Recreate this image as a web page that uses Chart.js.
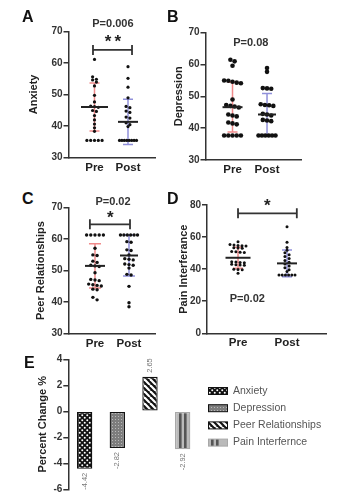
<!DOCTYPE html>
<html>
<head>
<meta charset="utf-8">
<script src="https://cdn.jsdelivr.net/npm/chart.js@4.4.1/dist/chart.umd.min.js"></script>
<style>
  html, body { margin: 0; padding: 0; background: #fff; width: 348px; height: 503px; overflow: hidden; position: relative; }
  canvas { position: absolute; }
  .panel { position: absolute; font: bold 16px "Liberation Sans", Arial, sans-serif; line-height: 16px; color: #111; }
</style>
</head>
<body>
<canvas id="chartA"></canvas>
<canvas id="chartB"></canvas>
<canvas id="chartC"></canvas>
<canvas id="chartD"></canvas>
<canvas id="chartE"></canvas>
<div class="panel" style="left:22px;top:9px">A</div>
<div class="panel" style="left:167px;top:9px">B</div>
<div class="panel" style="left:22px;top:191px">C</div>
<div class="panel" style="left:167px;top:191px">D</div>
<div class="panel" style="left:24px;top:355px">E</div>
<script>
const groups = ['Pre', 'Post'];

// A - Anxiety
const anxietyPre = [61.1, 55.6, 54.8, 54.6, 53.9, 52.7, 49.7, 47.6, 46.3, 46.1, 45.9, 44.9, 44.6, 43.3, 41.9, 40.6, 39.4, 38.3, 35.4, 35.4, 35.4, 35.4, 35.4];
const anxietyPost = [58.8, 55.1, 52.3, 48.9, 46.2, 45.8, 44.7, 44.3, 42.8, 42.5, 41.0, 40.4, 39.8, 35.4, 35.4, 35.4, 35.4, 35.4, 35.4, 35.4, 35.4];
const anxietyMean = [46.0, 41.3];
const anxietySD = [7.6, 7.2];

// B - Depression
const depressionPre = [61.5, 61.0, 59.6, 55.0, 54.9, 54.6, 54.3, 54.1, 49.0, 47.3, 47.0, 46.8, 46.5, 44.3, 44.0, 43.7, 41.8, 41.5, 41.2, 37.7, 37.7, 37.7, 37.7, 37.7];
const depressionPost = [58.9, 57.7, 52.6, 52.5, 52.4, 47.5, 47.3, 47.2, 47.0, 44.5, 44.3, 44.0, 42.6, 42.4, 42.2, 37.7, 37.7, 37.7, 37.7, 37.7, 37.7];
const depressionMean = [46.6, 44.3];
const depressionSD = [7.8, 6.6];

// C - Peer Relationships
const peerPre = [61.3, 61.3, 61.3, 61.3, 61.3, 57.1, 55.0, 54.8, 53.0, 52.6, 51.7, 51.5, 51.3, 49.3, 47.2, 47.0, 46.8, 45.7, 45.5, 45.3, 45.1, 44.1, 43.9, 41.5, 40.7];
const peerPost = [61.3, 61.3, 61.3, 61.3, 61.3, 61.3, 59.2, 59.0, 56.6, 56.4, 55.0, 53.8, 53.6, 53.4, 52.1, 51.9, 51.7, 50.8, 48.8, 48.6, 45.0, 39.8, 38.5];
const peerMean = [51.5, 54.8];
const peerSD = [7.0, 6.5];

// D - Pain Interference
const painPre = [57.1, 55.3, 55.0, 54.8, 54.6, 54.4, 53.4, 53.2, 53.0, 51.0, 50.8, 50.6, 50.4, 44.6, 44.4, 44.2, 44.0, 43.0, 42.8, 42.6, 42.4, 40.0, 39.8, 39.6, 37.4];
const painPost = [66.4, 56.7, 53.5, 51.8, 50.3, 49.0, 47.9, 46.6, 45.4, 44.3, 43.2, 42.0, 40.8, 39.6, 38.5, 36.3, 36.3, 36.3, 36.3, 36.3, 36.3];
const painMean = [47.1, 43.6];
const painSD = [6.6, 8.3];

// E - percent change
const changeLabels = ['Anxiety', 'Depression', 'Peer Relationships', 'Pain Interfernce'];
const changeValues = [-4.42, -2.82, 2.65, -2.92];

const ticks30to70 = [30, 40, 50, 60, 70];
const ticks0to80 = [0, 20, 40, 60, 80];
const ticksChange = [-6, -4, -2, 0, 2, 4];

const FONT = '"Liberation Sans", Arial, Helvetica, sans-serif';
Chart.defaults.font.family = FONT;
Chart.defaults.color = '#333';
const sdColors = ['#f08a8a', '#9090da'];
const X_AXIS_H = 18;

// GraphPad-like scatter: values that sit close together share a row
function swarm(values, center, p) {
  const pxY = (p.area.b - p.area.t) / (p.ymax - p.ymin);
  const pxX = (p.area.r - p.area.l) / (p.xmax - p.xmin);
  const rows = [];
  values.slice().sort((a, b) => b - a).forEach(v => {
    const row = rows[rows.length - 1];
    if (row && (row[0] - v) * pxY < p.rowTol) row.push(v);
    else rows.push([v]);
  });
  const pts = [];
  rows.forEach(row => {
    // wide rows get squeezed so they overlap like the original
    const step = row.length > 1 ? Math.min(p.spacing, p.maxRow / (row.length - 1)) : 0;
    row.forEach((v, i) => {
      pts.push({ x: center + (i - (row.length - 1) / 2) * step / pxX, y: v });
    });
  });
  return pts;
}

function placeCanvas(id, area, titleX, padTop, padRight, bottomExtra) {
  const c = document.getElementById(id);
  const left = Math.round(titleX - 6.6);
  const top = Math.floor(area.t - padTop);
  const w = Math.ceil(area.r + padRight - left);
  const h = Math.ceil(area.b + bottomExtra - top);
  c.width = w; c.height = h;
  c.style.left = left + 'px'; c.style.top = top + 'px';
  return {
    canvas: c,
    yWidth: area.l - left,
    pad: { left: 0, top: area.t - top, right: w - (area.r - left), bottom: h - (area.b - top) }
  };
}

function dotPanel(id, p) {
  const box = placeCanvas(id, p.area, p.titleX, 18, 4, X_AXIS_H + 4);
  box.pad.bottom -= X_AXIS_H;

  const decor = {
    id: 'decor',
    beforeDatasetsDraw(chart) {
      const { ctx, scales: { x, y } } = chart;
      ctx.save();
      ctx.lineWidth = 1.5;
      p.mean.forEach((m, i) => {
        const cx = x.getPixelForValue(i + 1);
        const hi = y.getPixelForValue(m + p.sd[i]);
        const lo = y.getPixelForValue(m - p.sd[i]);
        ctx.strokeStyle = sdColors[i];
        ctx.beginPath();
        ctx.moveTo(cx, hi); ctx.lineTo(cx, lo);
        ctx.moveTo(cx - p.cap, hi); ctx.lineTo(cx + p.cap, hi);
        ctx.moveTo(cx - p.cap, lo); ctx.lineTo(cx + p.cap, lo);
        ctx.stroke();
      });
      ctx.restore();
    },
    afterDatasetsDraw(chart) {
      const { ctx, scales: { x, y } } = chart;
      ctx.save();
      ctx.strokeStyle = '#222';
      ctx.lineWidth = 2;
      p.mean.forEach((m, i) => {
        const cx = x.getPixelForValue(i + 1);
        const my = y.getPixelForValue(m);
        ctx.beginPath();
        ctx.moveTo(cx - p.meanHalf[i], my); ctx.lineTo(cx + p.meanHalf[i], my);
        ctx.stroke();
      });
      if (p.bracket) {
        const x0 = x.getPixelForValue(p.bracket[0]);
        const x1 = x.getPixelForValue(p.bracket[1]);
        const by = y.getPixelForValue(p.bracket[2]);
        ctx.strokeStyle = '#333';
        ctx.lineWidth = 1.8;
        ctx.beginPath();
        ctx.moveTo(x0, by); ctx.lineTo(x1, by);
        ctx.moveTo(x0, by - 5); ctx.lineTo(x0, by + 5);
        ctx.moveTo(x1, by - 5); ctx.lineTo(x1, by + 5);
        ctx.stroke();
      }
      if (p.stars) {
        ctx.fillStyle = '#222';
        ctx.font = 'bold 17px ' + FONT;
        ctx.textAlign = 'center';
        ctx.textBaseline = 'alphabetic';
        ctx.letterSpacing = '3px';
        ctx.fillText(p.stars[0], x.getPixelForValue(p.stars[1]) + 1.5, y.getPixelForValue(p.stars[2]) + 9);
        ctx.letterSpacing = '0px';
      }
      ctx.fillStyle = '#333';
      ctx.font = 'bold 11px ' + FONT;
      ctx.textAlign = 'center';
      ctx.textBaseline = 'middle';
      ctx.fillText(p.pText[0], x.getPixelForValue(p.pText[1]), y.getPixelForValue(p.pText[2]));
      ctx.restore();
    }
  };

  const dotStyle = { pointRadius: p.radius, pointBackgroundColor: '#111', pointBorderWidth: 0, pointHoverRadius: p.radius };

  return new Chart(box.canvas, {
    type: 'scatter',
    data: {
      datasets: [
        Object.assign({ label: groups[0], data: swarm(p.pre, 1, p) }, dotStyle),
        Object.assign({ label: groups[1], data: swarm(p.post, 2, p) }, dotStyle)
      ]
    },
    options: {
      responsive: false,
      animation: false,
      events: [],
      layout: { padding: box.pad },
      plugins: { legend: { display: false }, tooltip: { enabled: false } },
      scales: {
        x: {
          type: 'linear',
          min: p.xmin,
          max: p.xmax,
          afterBuildTicks: s => { s.ticks = groups.map((g, i) => ({ value: i + 1 })); },
          afterFit: s => { s.height = X_AXIS_H; },
          ticks: {
            callback: v => groups[Math.round(v) - 1],
            font: { size: 11.5, weight: 'bold' },
            color: '#222',
            padding: 3,
            autoSkip: false,
            maxRotation: 0
          },
          grid: { display: false, drawTicks: false },
          border: { display: true, color: '#333', width: 1.5 }
        },
        y: {
          min: p.ymin,
          max: p.ymax,
          afterBuildTicks: s => { s.ticks = p.yTicks.map(v => ({ value: v })); },
          afterFit: s => { s.width = box.yWidth; },
          ticks: { font: { size: 10, weight: 'bold' }, color: '#333', padding: 1 },
          grid: { drawOnChartArea: false, drawTicks: true, tickLength: 5, color: '#333', lineWidth: 1.5 },
          border: { color: '#333', width: 1.5 },
          title: { display: true, text: p.title, font: { size: 11, weight: 'bold' }, color: '#222', padding: 0 }
        }
      }
    },
    plugins: [decor]
  });
}

dotPanel('chartA', {
  pre: anxietyPre, post: anxietyPost, mean: anxietyMean, sd: anxietySD,
  title: 'Anxiety', yTicks: ticks30to70, ymin: 30, ymax: 70,
  area: { l: 68.5, t: 31.3, r: 155, b: 157.5 }, titleX: 34,
  xmin: 0.224, xmax: 2.806, radius: 1.6, spacing: 3.8, maxRow: 17, rowTol: 2.6,
  meanHalf: [13.5, 10], cap: 5,
  pText: ['P=0.006', 1.55, 72.3], stars: ['**', 1.55, 67.9], bracket: [0.955, 2.12, 64.1]
});

dotPanel('chartB', {
  pre: depressionPre, post: depressionPost, mean: depressionMean, sd: depressionSD,
  title: 'Depression', yTicks: ticks30to70, ymin: 30, ymax: 70,
  area: { l: 205.5, t: 32.7, r: 301, b: 160 }, titleX: 179,
  xmin: 0.217, xmax: 2.985, radius: 2.3, spacing: 4.2, maxRow: 17, rowTol: 3.5,
  meanHalf: [10, 9], cap: 5,
  pText: ['P=0.08', 1.53, 66.7]
});

dotPanel('chartC', {
  pre: peerPre, post: peerPost, mean: peerMean, sd: peerSD,
  title: 'Peer Relationships', yTicks: ticks30to70, ymin: 30, ymax: 70,
  area: { l: 68.5, t: 207.7, r: 155, b: 333.5 }, titleX: 41,
  xmin: 0.221, xmax: 2.765, radius: 1.7, spacing: 4.2, maxRow: 17, rowTol: 2.6,
  meanHalf: [10, 9], cap: 6,
  pText: ['P=0.02', 1.53, 71.7], stars: ['*', 1.45, 67.9], bracket: [0.85, 2.03, 64.7]
});

dotPanel('chartD', {
  pre: painPre, post: painPost, mean: painMean, sd: painSD,
  title: 'Pain Interferance', yTicks: ticks0to80, ymin: 0, ymax: 80,
  area: { l: 207, t: 205, r: 326.7, b: 333.3 }, titleX: 184,
  xmin: 0.367, xmax: 2.81, radius: 1.5, spacing: 4.2, maxRow: 16, rowTol: 2.2,
  meanHalf: [12.5, 10], cap: 5,
  pText: ['P=0.02', 1.19, 21.4], stars: ['*', 1.6, 81.6], bracket: [1.0, 2.2, 74.8]
});

// ---- Panel E: patterned bars ----
function makePattern(w, h, draw) {
  const c = document.createElement('canvas');
  c.width = w; c.height = h;
  draw(c.getContext('2d'), w, h);
  return c.getContext('2d').createPattern(c, 'repeat');
}

const checkerFill = makePattern(5, 5, (g, w, h) => {
  g.fillStyle = '#111'; g.fillRect(0, 0, w, h);
  g.fillStyle = '#fff';
  [[1.25, 1.25], [3.75, 3.75]].forEach(([cx, cy]) => { g.beginPath(); g.arc(cx, cy, 1.0, 0, Math.PI * 2); g.fill(); });
});
const stippleFill = makePattern(3, 3, (g, w, h) => {
  g.fillStyle = '#7d7d7d'; g.fillRect(0, 0, w, h);
  g.fillStyle = '#b8b8b8'; g.fillRect(1, 1, 1, 1);
});
const diagonalFill = makePattern(6, 6, (g, w, h) => {
  g.fillStyle = '#111'; g.fillRect(0, 0, w, h);
  g.strokeStyle = '#fff'; g.lineWidth = 2.2;
  [-6, 0, 6].forEach(k => { g.beginPath(); g.moveTo(k, 0); g.lineTo(k + 6, 6); g.stroke(); });
});
const linesFill = makePattern(16, 4, (g, w, h) => {
  g.fillStyle = '#bababa'; g.fillRect(0, 0, w, h);
  g.fillStyle = '#555'; g.fillRect(4, 0, 2.6, h); g.fillRect(9, 0, 2.6, h);
});
const barFills = [checkerFill, stippleFill, diagonalFill, linesFill];
const barBorders = ['#111', '#111', '#111', '#a8a8a8'];

const areaE = { l: 68.3, t: 359.3, r: 199, b: 489.3 };
const boxE = placeCanvas('chartE', areaE, 43, 10, 146, 10);

const barDecor = {
  id: 'barDecor',
  beforeDatasetsDraw(chart) {
    const el = chart.getDatasetMeta(3).data[3];
    if (el) linesFill.setTransform(new DOMMatrix([1, 0, 0, 1, el.x - el.width / 2, 0]));
  },
  afterDatasetsDraw(chart) {
    const ctx = chart.ctx;
    ctx.save();
    ctx.font = '7.5px ' + FONT;
    ctx.fillStyle = '#777';
    ctx.textBaseline = 'middle';
    changeValues.forEach((v, i) => {
      const el = chart.getDatasetMeta(i).data[i];
      ctx.save();
      ctx.translate(el.x, v >= 0 ? el.y - 4 : el.y + 4);
      ctx.rotate(-Math.PI / 2);
      ctx.textAlign = v >= 0 ? 'left' : 'right';
      ctx.fillText(v.toFixed(2), 0, 0);
      ctx.restore();
    });
    ctx.restore();
  },
  afterDraw(chart) {
    // legend on the right of the bars
    const { ctx, chartArea } = chart;
    const lx = chartArea.right + 9;
    ctx.save();
    chart.data.datasets.forEach((ds, i) => {
      const cy = chartArea.top + 31.7 + i * 17.2;
      ctx.fillStyle = ds.backgroundColor;
      ctx.fillRect(lx, cy - 3.5, 20, 7);
      ctx.strokeStyle = ds.borderColor;
      ctx.lineWidth = 1;
      ctx.strokeRect(lx + 0.5, cy - 3.5, 19, 7);
      ctx.fillStyle = '#555';
      ctx.font = '10.5px ' + FONT;
      ctx.textAlign = 'left';
      ctx.textBaseline = 'middle';
      ctx.fillText(ds.label, lx + 25, cy);
    });
    ctx.restore();
  }
};

new Chart(boxE.canvas, {
  type: 'bar',
  data: {
    labels: changeLabels,
    datasets: changeLabels.map((label, i) => ({
      label: label,
      data: changeValues.map((v, j) => (j === i ? v : null)),
      backgroundColor: barFills[i],
      borderColor: barBorders[i],
      borderWidth: 1.3,
      borderSkipped: false,
      grouped: false,
      barPercentage: 0.47,
      categoryPercentage: 1
    }))
  },
  options: {
    responsive: false,
    animation: false,
    events: [],
    layout: { padding: boxE.pad },
    plugins: { legend: { display: false }, tooltip: { enabled: false } },
    scales: {
      x: { display: false },
      y: {
        min: -6,
        max: 4,
        afterBuildTicks: s => { s.ticks = ticksChange.map(v => ({ value: v })); },
        afterFit: s => { s.width = boxE.yWidth; },
        ticks: { font: { size: 10, weight: 'bold' }, color: '#333', padding: 1 },
        grid: { drawOnChartArea: false, drawTicks: true, tickLength: 5, color: '#333', lineWidth: 1.5 },
        border: { color: '#333', width: 1.5 },
        title: { display: true, text: 'Percent Change %', font: { size: 11, weight: 'bold' }, color: '#222', padding: 0 }
      }
    }
  },
  plugins: [barDecor]
});
</script>
</body>
</html>
